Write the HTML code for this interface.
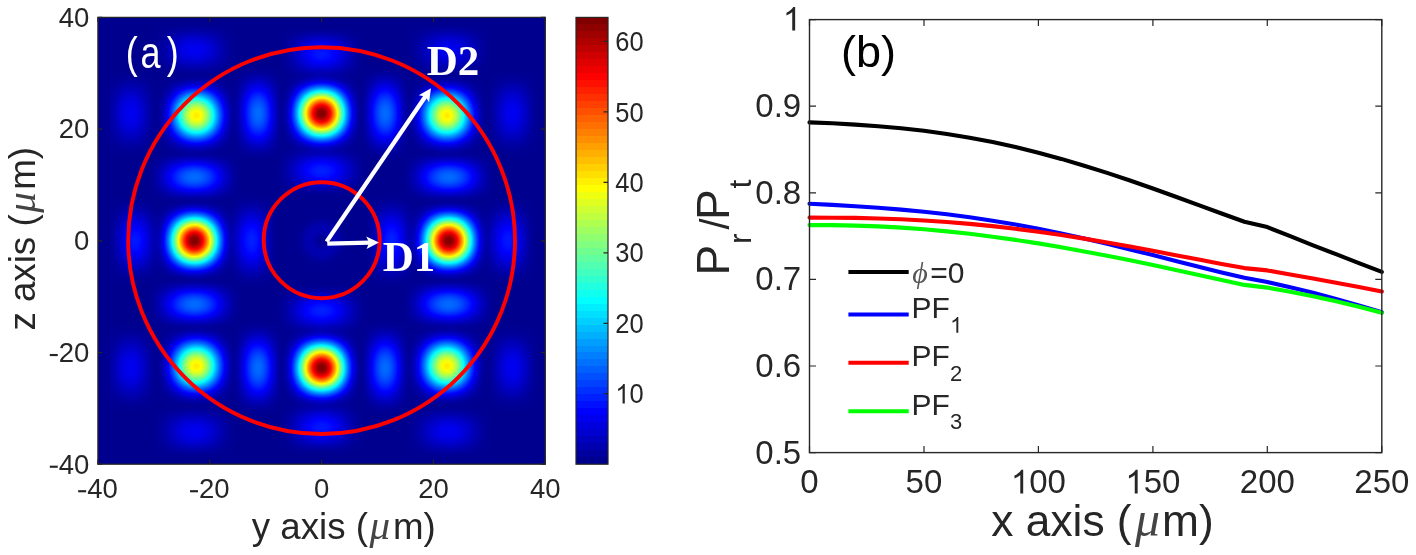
<!DOCTYPE html>
<html><head><meta charset="utf-8">
<style>
html,body{margin:0;padding:0;background:#fff;}
body{width:1416px;height:555px;position:relative;overflow:hidden;font-family:"Liberation Sans",sans-serif;}
#hm{position:absolute;left:98px;top:17px;width:447px;height:447px;}
#ov{position:absolute;left:0;top:0;}
text{font-family:"Liberation Sans",sans-serif;fill:#262626;}
</style></head><body>
<svg id="fb" width="1416" height="555" style="position:absolute;left:0;top:0"><defs><radialGradient id="fge"><stop offset="0.000" stop-color="rgb(128,0,0)" stop-opacity="1.00"/><stop offset="0.083" stop-color="rgb(147,0,0)" stop-opacity="1.00"/><stop offset="0.167" stop-color="rgb(213,0,0)" stop-opacity="1.00"/><stop offset="0.250" stop-color="rgb(255,60,0)" stop-opacity="1.00"/><stop offset="0.333" stop-color="rgb(255,188,0)" stop-opacity="1.00"/><stop offset="0.417" stop-color="rgb(182,255,73)" stop-opacity="1.00"/><stop offset="0.500" stop-color="rgb(42,255,213)" stop-opacity="1.00"/><stop offset="0.583" stop-color="rgb(0,168,255)" stop-opacity="1.00"/><stop offset="0.667" stop-color="rgb(0,61,255)" stop-opacity="1.00"/><stop offset="0.750" stop-color="rgb(0,0,234)" stop-opacity="1.00"/><stop offset="0.833" stop-color="rgb(0,0,180)" stop-opacity="0.83"/><stop offset="0.917" stop-color="rgb(0,0,152)" stop-opacity="0.42"/><stop offset="1.000" stop-color="rgb(0,0,143)" stop-opacity="0.00"/></radialGradient><radialGradient id="fgc"><stop offset="0.000" stop-color="rgb(255,235,0)" stop-opacity="1.00"/><stop offset="0.083" stop-color="rgb(255,250,0)" stop-opacity="1.00"/><stop offset="0.167" stop-color="rgb(218,255,37)" stop-opacity="1.00"/><stop offset="0.250" stop-color="rgb(153,255,102)" stop-opacity="1.00"/><stop offset="0.333" stop-color="rgb(72,255,183)" stop-opacity="1.00"/><stop offset="0.417" stop-color="rgb(0,238,255)" stop-opacity="1.00"/><stop offset="0.500" stop-color="rgb(0,148,255)" stop-opacity="1.00"/><stop offset="0.583" stop-color="rgb(0,67,255)" stop-opacity="1.00"/><stop offset="0.667" stop-color="rgb(0,0,253)" stop-opacity="1.00"/><stop offset="0.750" stop-color="rgb(0,0,201)" stop-opacity="1.00"/><stop offset="0.833" stop-color="rgb(0,0,167)" stop-opacity="0.83"/><stop offset="0.917" stop-color="rgb(0,0,149)" stop-opacity="0.42"/><stop offset="1.000" stop-color="rgb(0,0,143)" stop-opacity="0.00"/></radialGradient><radialGradient id="fl12"><stop offset="0.000" stop-color="rgb(0,107,255)" stop-opacity="1.00"/><stop offset="0.083" stop-color="rgb(0,103,255)" stop-opacity="1.00"/><stop offset="0.167" stop-color="rgb(0,92,255)" stop-opacity="1.00"/><stop offset="0.250" stop-color="rgb(0,75,255)" stop-opacity="1.00"/><stop offset="0.333" stop-color="rgb(0,52,255)" stop-opacity="1.00"/><stop offset="0.417" stop-color="rgb(0,26,255)" stop-opacity="1.00"/><stop offset="0.500" stop-color="rgb(0,0,253)" stop-opacity="1.00"/><stop offset="0.583" stop-color="rgb(0,0,224)" stop-opacity="1.00"/><stop offset="0.667" stop-color="rgb(0,0,198)" stop-opacity="1.00"/><stop offset="0.750" stop-color="rgb(0,0,175)" stop-opacity="1.00"/><stop offset="0.833" stop-color="rgb(0,0,158)" stop-opacity="0.83"/><stop offset="0.917" stop-color="rgb(0,0,147)" stop-opacity="0.42"/><stop offset="1.000" stop-color="rgb(0,0,143)" stop-opacity="0.00"/></radialGradient><radialGradient id="fl32"><stop offset="0.000" stop-color="rgb(0,0,242)" stop-opacity="1.00"/><stop offset="0.083" stop-color="rgb(0,0,240)" stop-opacity="1.00"/><stop offset="0.167" stop-color="rgb(0,0,235)" stop-opacity="1.00"/><stop offset="0.250" stop-color="rgb(0,0,227)" stop-opacity="1.00"/><stop offset="0.333" stop-color="rgb(0,0,217)" stop-opacity="1.00"/><stop offset="0.417" stop-color="rgb(0,0,205)" stop-opacity="1.00"/><stop offset="0.500" stop-color="rgb(0,0,193)" stop-opacity="1.00"/><stop offset="0.583" stop-color="rgb(0,0,180)" stop-opacity="1.00"/><stop offset="0.667" stop-color="rgb(0,0,168)" stop-opacity="1.00"/><stop offset="0.750" stop-color="rgb(0,0,158)" stop-opacity="1.00"/><stop offset="0.833" stop-color="rgb(0,0,150)" stop-opacity="0.83"/><stop offset="0.917" stop-color="rgb(0,0,145)" stop-opacity="0.42"/><stop offset="1.000" stop-color="rgb(0,0,143)" stop-opacity="0.00"/></radialGradient><radialGradient id="fl10"><stop offset="0.000" stop-color="rgb(0,31,255)" stop-opacity="1.00"/><stop offset="0.083" stop-color="rgb(0,29,255)" stop-opacity="1.00"/><stop offset="0.167" stop-color="rgb(0,21,255)" stop-opacity="1.00"/><stop offset="0.250" stop-color="rgb(0,10,255)" stop-opacity="1.00"/><stop offset="0.333" stop-color="rgb(0,0,250)" stop-opacity="1.00"/><stop offset="0.417" stop-color="rgb(0,0,233)" stop-opacity="1.00"/><stop offset="0.500" stop-color="rgb(0,0,215)" stop-opacity="1.00"/><stop offset="0.583" stop-color="rgb(0,0,196)" stop-opacity="1.00"/><stop offset="0.667" stop-color="rgb(0,0,179)" stop-opacity="1.00"/><stop offset="0.750" stop-color="rgb(0,0,164)" stop-opacity="1.00"/><stop offset="0.833" stop-color="rgb(0,0,153)" stop-opacity="0.83"/><stop offset="0.917" stop-color="rgb(0,0,146)" stop-opacity="0.42"/><stop offset="1.000" stop-color="rgb(0,0,143)" stop-opacity="0.00"/></radialGradient><radialGradient id="fl30"><stop offset="0.000" stop-color="rgb(0,23,255)" stop-opacity="1.00"/><stop offset="0.083" stop-color="rgb(0,21,255)" stop-opacity="1.00"/><stop offset="0.167" stop-color="rgb(0,14,255)" stop-opacity="1.00"/><stop offset="0.250" stop-color="rgb(0,3,255)" stop-opacity="1.00"/><stop offset="0.333" stop-color="rgb(0,0,244)" stop-opacity="1.00"/><stop offset="0.417" stop-color="rgb(0,0,228)" stop-opacity="1.00"/><stop offset="0.500" stop-color="rgb(0,0,211)" stop-opacity="1.00"/><stop offset="0.583" stop-color="rgb(0,0,193)" stop-opacity="1.00"/><stop offset="0.667" stop-color="rgb(0,0,177)" stop-opacity="1.00"/><stop offset="0.750" stop-color="rgb(0,0,163)" stop-opacity="1.00"/><stop offset="0.833" stop-color="rgb(0,0,152)" stop-opacity="0.83"/><stop offset="0.917" stop-color="rgb(0,0,146)" stop-opacity="0.42"/><stop offset="1.000" stop-color="rgb(0,0,143)" stop-opacity="0.00"/></radialGradient><clipPath id="fbc"><rect x="98" y="17" width="447" height="447"/></clipPath></defs><g clip-path="url(#fbc)"><rect x="98" y="17" width="447" height="447" fill="#00008f"/><ellipse cx="258.0" cy="367.9" rx="28.5" ry="50.3" fill="url(#fl12)"/><ellipse cx="194.4" cy="304.3" rx="50.3" ry="28.5" fill="url(#fl12)"/><ellipse cx="130.8" cy="367.9" rx="27.9" ry="44.7" fill="url(#fl32)"/><ellipse cx="194.4" cy="431.5" rx="44.7" ry="27.9" fill="url(#fl32)"/><ellipse cx="258.0" cy="113.5" rx="28.5" ry="50.3" fill="url(#fl12)"/><ellipse cx="448.8" cy="304.3" rx="50.3" ry="28.5" fill="url(#fl12)"/><ellipse cx="130.8" cy="113.5" rx="27.9" ry="44.7" fill="url(#fl32)"/><ellipse cx="448.8" cy="431.5" rx="44.7" ry="27.9" fill="url(#fl32)"/><ellipse cx="251.8" cy="240.7" rx="28.5" ry="50.3" fill="url(#fl10)"/><ellipse cx="321.6" cy="310.5" rx="50.3" ry="28.5" fill="url(#fl10)"/><ellipse cx="135.0" cy="240.7" rx="27.9" ry="44.7" fill="url(#fl30)"/><ellipse cx="321.6" cy="427.3" rx="44.7" ry="27.9" fill="url(#fl30)"/><ellipse cx="385.2" cy="367.9" rx="28.5" ry="50.3" fill="url(#fl12)"/><ellipse cx="194.4" cy="177.1" rx="50.3" ry="28.5" fill="url(#fl12)"/><ellipse cx="512.4" cy="367.9" rx="27.9" ry="44.7" fill="url(#fl32)"/><ellipse cx="194.4" cy="49.9" rx="44.7" ry="27.9" fill="url(#fl32)"/><ellipse cx="385.2" cy="113.5" rx="28.5" ry="50.3" fill="url(#fl12)"/><ellipse cx="448.8" cy="177.1" rx="50.3" ry="28.5" fill="url(#fl12)"/><ellipse cx="512.4" cy="113.5" rx="27.9" ry="44.7" fill="url(#fl32)"/><ellipse cx="448.8" cy="49.9" rx="44.7" ry="27.9" fill="url(#fl32)"/><ellipse cx="391.4" cy="240.7" rx="28.5" ry="50.3" fill="url(#fl10)"/><ellipse cx="321.6" cy="170.9" rx="50.3" ry="28.5" fill="url(#fl10)"/><ellipse cx="508.2" cy="240.7" rx="27.9" ry="44.7" fill="url(#fl30)"/><ellipse cx="321.6" cy="54.1" rx="44.7" ry="27.9" fill="url(#fl30)"/><ellipse cx="194.4" cy="240.7" rx="42.5" ry="42.5" fill="url(#fge)"/><ellipse cx="321.6" cy="367.9" rx="42.5" ry="42.5" fill="url(#fge)"/><ellipse cx="196.4" cy="365.9" rx="42.5" ry="42.5" fill="url(#fgc)"/><ellipse cx="196.4" cy="115.5" rx="42.5" ry="42.5" fill="url(#fgc)"/><ellipse cx="448.8" cy="240.7" rx="42.5" ry="42.5" fill="url(#fge)"/><ellipse cx="321.6" cy="113.5" rx="42.5" ry="42.5" fill="url(#fge)"/><ellipse cx="446.8" cy="365.9" rx="42.5" ry="42.5" fill="url(#fgc)"/><ellipse cx="446.8" cy="115.5" rx="42.5" ry="42.5" fill="url(#fgc)"/></g></svg>
<canvas id="hm" width="447" height="447"></canvas>
<svg id="ov" width="1416" height="555" viewBox="0 0 1416 555">
<circle cx="321.6" cy="240.6" r="193.4" fill="none" stroke="#ff0000" stroke-width="3.9"/>
<circle cx="321.7" cy="240.2" r="58" fill="none" stroke="#ff0000" stroke-width="3.9"/>
<line x1="327.3" y1="243.6" x2="369.7" y2="242.6" stroke="#fff" stroke-width="4.3"/>
<path d="M379.00 242.40 L366.55 248.89 L369.17 242.63 L366.26 236.49 Z" fill="#fff"/>
<line x1="326.6" y1="241.6" x2="425.7" y2="96.0" stroke="#fff" stroke-width="4.3"/>
<path d="M431.00 88.30 L429.03 102.20 L425.47 96.42 L418.78 95.22 Z" fill="#fff"/>
<text x="382.7" y="270.7" style="font-size:43px;font-family:'Liberation Serif',serif;font-weight:bold;fill:#fff">D1</text>
<text x="426.8" y="75.0" style="font-size:43px;font-family:'Liberation Serif',serif;font-weight:bold;fill:#fff">D2</text>
<text transform="translate(128,67.6) scale(0.8,1)" x="-2.79" y="0" style="font-size:45px;fill:#fff">(</text>
<text transform="translate(142,67.6) scale(0.8,1)" x="-1.89" y="0" style="font-size:45px;fill:#fff">a</text>
<text transform="translate(167,67.6) scale(0.8,1)" x="-0.27" y="0" style="font-size:45px;fill:#fff">)</text>
<rect x="97.9" y="17.4" width="447.4" height="446.8" fill="none" stroke="#262626" stroke-width="1.3"/>
<rect x="78.17" y="490.16" width="7.97" height="2.15" fill="#262626"/>
<text x="87.2" y="498.0" style="font-size:27.5px">40</text>
<rect x="49.80" y="465.66" width="7.97" height="2.15" fill="#262626"/>
<text x="58.8" y="473.5" style="font-size:27.5px">40</text>
<rect x="190.02" y="490.16" width="7.97" height="2.15" fill="#262626"/>
<text x="199.0" y="498.0" style="font-size:27.5px">20</text>
<rect x="49.80" y="353.96" width="7.97" height="2.15" fill="#262626"/>
<text x="58.8" y="361.8" style="font-size:27.5px">20</text>
<text x="314.0" y="498.0" style="font-size:27.5px">0</text>
<text x="74.1" y="250.1" style="font-size:27.5px">0</text>
<text x="418.2" y="498.0" style="font-size:27.5px">20</text>
<text x="58.8" y="138.4" style="font-size:27.5px">20</text>
<text x="530.0" y="498.0" style="font-size:27.5px">40</text>
<text x="58.8" y="26.7" style="font-size:27.5px">40</text>
<path d="M97.9 464.2V459.7M97.9 17.4V21.9M97.9 464.2H102.4M545.3 464.2H540.8M209.8 464.2V459.7M209.8 17.4V21.9M97.9 352.5H102.4M545.3 352.5H540.8M321.6 464.2V459.7M321.6 17.4V21.9M97.9 240.8H102.4M545.3 240.8H540.8M433.4 464.2V459.7M433.4 17.4V21.9M97.9 129.1H102.4M545.3 129.1H540.8M545.3 464.2V459.7M545.3 17.4V21.9M97.9 17.4H102.4M545.3 17.4H540.8" stroke="#262626" stroke-width="1.2" fill="none"/>
<text y="538.8" style="font-size:36.7px"><tspan x="251.8">y axis (</tspan><tspan x="369.5" style="font-family:'Liberation Serif',serif;font-style:italic;font-size:41px;fill:#444">&#956;</tspan><tspan x="393">m)</tspan></text>
<text transform="translate(35.2,0) rotate(-90)" y="0" style="font-size:36.7px"><tspan x="-330.6">z axis (</tspan><tspan x="-212.8" style="font-family:'Liberation Serif',serif;font-style:italic;font-size:41px;fill:#444">&#956;</tspan><tspan x="-189.8">m)</tspan></text>
<defs><linearGradient id="cbg" x1="0" y1="1" x2="0" y2="0"><stop offset="0.00000" stop-color="rgb(0,0,143)"/><stop offset="0.01562" stop-color="rgb(0,0,143)"/><stop offset="0.01562" stop-color="rgb(0,0,159)"/><stop offset="0.03125" stop-color="rgb(0,0,159)"/><stop offset="0.03125" stop-color="rgb(0,0,175)"/><stop offset="0.04688" stop-color="rgb(0,0,175)"/><stop offset="0.04688" stop-color="rgb(0,0,191)"/><stop offset="0.06250" stop-color="rgb(0,0,191)"/><stop offset="0.06250" stop-color="rgb(0,0,207)"/><stop offset="0.07812" stop-color="rgb(0,0,207)"/><stop offset="0.07812" stop-color="rgb(0,0,223)"/><stop offset="0.09375" stop-color="rgb(0,0,223)"/><stop offset="0.09375" stop-color="rgb(0,0,239)"/><stop offset="0.10938" stop-color="rgb(0,0,239)"/><stop offset="0.10938" stop-color="rgb(0,0,255)"/><stop offset="0.12500" stop-color="rgb(0,0,255)"/><stop offset="0.12500" stop-color="rgb(0,16,255)"/><stop offset="0.14062" stop-color="rgb(0,16,255)"/><stop offset="0.14062" stop-color="rgb(0,32,255)"/><stop offset="0.15625" stop-color="rgb(0,32,255)"/><stop offset="0.15625" stop-color="rgb(0,48,255)"/><stop offset="0.17188" stop-color="rgb(0,48,255)"/><stop offset="0.17188" stop-color="rgb(0,64,255)"/><stop offset="0.18750" stop-color="rgb(0,64,255)"/><stop offset="0.18750" stop-color="rgb(0,80,255)"/><stop offset="0.20312" stop-color="rgb(0,80,255)"/><stop offset="0.20312" stop-color="rgb(0,96,255)"/><stop offset="0.21875" stop-color="rgb(0,96,255)"/><stop offset="0.21875" stop-color="rgb(0,112,255)"/><stop offset="0.23438" stop-color="rgb(0,112,255)"/><stop offset="0.23438" stop-color="rgb(0,128,255)"/><stop offset="0.25000" stop-color="rgb(0,128,255)"/><stop offset="0.25000" stop-color="rgb(0,143,255)"/><stop offset="0.26562" stop-color="rgb(0,143,255)"/><stop offset="0.26562" stop-color="rgb(0,159,255)"/><stop offset="0.28125" stop-color="rgb(0,159,255)"/><stop offset="0.28125" stop-color="rgb(0,175,255)"/><stop offset="0.29688" stop-color="rgb(0,175,255)"/><stop offset="0.29688" stop-color="rgb(0,191,255)"/><stop offset="0.31250" stop-color="rgb(0,191,255)"/><stop offset="0.31250" stop-color="rgb(0,207,255)"/><stop offset="0.32812" stop-color="rgb(0,207,255)"/><stop offset="0.32812" stop-color="rgb(0,223,255)"/><stop offset="0.34375" stop-color="rgb(0,223,255)"/><stop offset="0.34375" stop-color="rgb(0,239,255)"/><stop offset="0.35938" stop-color="rgb(0,239,255)"/><stop offset="0.35938" stop-color="rgb(0,255,255)"/><stop offset="0.37500" stop-color="rgb(0,255,255)"/><stop offset="0.37500" stop-color="rgb(16,255,239)"/><stop offset="0.39062" stop-color="rgb(16,255,239)"/><stop offset="0.39062" stop-color="rgb(32,255,223)"/><stop offset="0.40625" stop-color="rgb(32,255,223)"/><stop offset="0.40625" stop-color="rgb(48,255,207)"/><stop offset="0.42188" stop-color="rgb(48,255,207)"/><stop offset="0.42188" stop-color="rgb(64,255,191)"/><stop offset="0.43750" stop-color="rgb(64,255,191)"/><stop offset="0.43750" stop-color="rgb(80,255,175)"/><stop offset="0.45312" stop-color="rgb(80,255,175)"/><stop offset="0.45312" stop-color="rgb(96,255,159)"/><stop offset="0.46875" stop-color="rgb(96,255,159)"/><stop offset="0.46875" stop-color="rgb(112,255,143)"/><stop offset="0.48438" stop-color="rgb(112,255,143)"/><stop offset="0.48438" stop-color="rgb(128,255,128)"/><stop offset="0.50000" stop-color="rgb(128,255,128)"/><stop offset="0.50000" stop-color="rgb(143,255,112)"/><stop offset="0.51562" stop-color="rgb(143,255,112)"/><stop offset="0.51562" stop-color="rgb(159,255,96)"/><stop offset="0.53125" stop-color="rgb(159,255,96)"/><stop offset="0.53125" stop-color="rgb(175,255,80)"/><stop offset="0.54688" stop-color="rgb(175,255,80)"/><stop offset="0.54688" stop-color="rgb(191,255,64)"/><stop offset="0.56250" stop-color="rgb(191,255,64)"/><stop offset="0.56250" stop-color="rgb(207,255,48)"/><stop offset="0.57812" stop-color="rgb(207,255,48)"/><stop offset="0.57812" stop-color="rgb(223,255,32)"/><stop offset="0.59375" stop-color="rgb(223,255,32)"/><stop offset="0.59375" stop-color="rgb(239,255,16)"/><stop offset="0.60938" stop-color="rgb(239,255,16)"/><stop offset="0.60938" stop-color="rgb(255,255,0)"/><stop offset="0.62500" stop-color="rgb(255,255,0)"/><stop offset="0.62500" stop-color="rgb(255,239,0)"/><stop offset="0.64062" stop-color="rgb(255,239,0)"/><stop offset="0.64062" stop-color="rgb(255,223,0)"/><stop offset="0.65625" stop-color="rgb(255,223,0)"/><stop offset="0.65625" stop-color="rgb(255,207,0)"/><stop offset="0.67188" stop-color="rgb(255,207,0)"/><stop offset="0.67188" stop-color="rgb(255,191,0)"/><stop offset="0.68750" stop-color="rgb(255,191,0)"/><stop offset="0.68750" stop-color="rgb(255,175,0)"/><stop offset="0.70312" stop-color="rgb(255,175,0)"/><stop offset="0.70312" stop-color="rgb(255,159,0)"/><stop offset="0.71875" stop-color="rgb(255,159,0)"/><stop offset="0.71875" stop-color="rgb(255,143,0)"/><stop offset="0.73438" stop-color="rgb(255,143,0)"/><stop offset="0.73438" stop-color="rgb(255,128,0)"/><stop offset="0.75000" stop-color="rgb(255,128,0)"/><stop offset="0.75000" stop-color="rgb(255,112,0)"/><stop offset="0.76562" stop-color="rgb(255,112,0)"/><stop offset="0.76562" stop-color="rgb(255,96,0)"/><stop offset="0.78125" stop-color="rgb(255,96,0)"/><stop offset="0.78125" stop-color="rgb(255,80,0)"/><stop offset="0.79688" stop-color="rgb(255,80,0)"/><stop offset="0.79688" stop-color="rgb(255,64,0)"/><stop offset="0.81250" stop-color="rgb(255,64,0)"/><stop offset="0.81250" stop-color="rgb(255,48,0)"/><stop offset="0.82812" stop-color="rgb(255,48,0)"/><stop offset="0.82812" stop-color="rgb(255,32,0)"/><stop offset="0.84375" stop-color="rgb(255,32,0)"/><stop offset="0.84375" stop-color="rgb(255,16,0)"/><stop offset="0.85938" stop-color="rgb(255,16,0)"/><stop offset="0.85938" stop-color="rgb(255,0,0)"/><stop offset="0.87500" stop-color="rgb(255,0,0)"/><stop offset="0.87500" stop-color="rgb(239,0,0)"/><stop offset="0.89062" stop-color="rgb(239,0,0)"/><stop offset="0.89062" stop-color="rgb(223,0,0)"/><stop offset="0.90625" stop-color="rgb(223,0,0)"/><stop offset="0.90625" stop-color="rgb(207,0,0)"/><stop offset="0.92188" stop-color="rgb(207,0,0)"/><stop offset="0.92188" stop-color="rgb(191,0,0)"/><stop offset="0.93750" stop-color="rgb(191,0,0)"/><stop offset="0.93750" stop-color="rgb(175,0,0)"/><stop offset="0.95312" stop-color="rgb(175,0,0)"/><stop offset="0.95312" stop-color="rgb(159,0,0)"/><stop offset="0.96875" stop-color="rgb(159,0,0)"/><stop offset="0.96875" stop-color="rgb(143,0,0)"/><stop offset="0.98438" stop-color="rgb(143,0,0)"/><stop offset="0.98438" stop-color="rgb(128,0,0)"/><stop offset="1.00000" stop-color="rgb(128,0,0)"/></linearGradient></defs>
<rect x="576.0" y="17.4" width="32.0" height="446.8" fill="url(#cbg)"/>
<rect x="576.0" y="17.4" width="32.0" height="446.8" fill="none" stroke="#262626" stroke-width="1.2"/>
<g transform="translate(615.3,403.43) scale(1,1.07)">
<path d="M9.50 0.00L7.26 0.00L7.26 -14.28C6.72 -13.77 6.01 -13.26 5.14 -12.75C4.27 -12.24 3.49 -11.85 2.78 -11.59L2.78 -13.76C4.03 -14.34 5.13 -15.07 6.06 -15.90C7.00 -16.73 7.66 -17.52 8.04 -18.25L9.50 -18.25Z" fill="#262626"/>
<text x="14.2" y="0.0" style="font-size:25.5px">0</text>
</g>
<g transform="translate(615.3,332.95) scale(1,1.07)">
<text x="0.0" y="0.0" style="font-size:25.5px">20</text>
</g>
<g transform="translate(615.3,262.48) scale(1,1.07)">
<text x="0.0" y="0.0" style="font-size:25.5px">30</text>
</g>
<g transform="translate(615.3,192.01) scale(1,1.07)">
<text x="0.0" y="0.0" style="font-size:25.5px">40</text>
</g>
<g transform="translate(615.3,121.53) scale(1,1.07)">
<text x="0.0" y="0.0" style="font-size:25.5px">50</text>
</g>
<g transform="translate(615.3,51.06) scale(1,1.07)">
<text x="0.0" y="0.0" style="font-size:25.5px">60</text>
</g>
<path d="M608.0 393.7H603.5M608.0 323.3H603.5M608.0 252.8H603.5M608.0 182.3H603.5M608.0 111.8H603.5M608.0 41.4H603.5" stroke="#262626" stroke-width="1.2" fill="none"/>
<polyline points="809.5,122.4 832.4,123.3 855.3,124.6 878.2,126.2 901.1,128.2 924.0,130.8 946.9,134.0 969.7,137.7 992.6,142.1 1015.5,147.1 1038.4,152.7 1061.3,158.9 1084.2,165.7 1107.1,172.9 1130.0,180.5 1152.9,188.5 1175.8,196.7 1198.7,205.1 1221.6,213.5 1244.4,221.7 1267.3,227.1 1290.2,236.2 1313.1,245.3 1336.0,254.2 1358.9,263.1 1381.8,271.9" fill="none" stroke="#000000" stroke-width="4.1" stroke-linejoin="round" stroke-linecap="round"/>
<polyline points="809.5,203.7 832.4,204.9 855.3,206.2 878.2,207.8 901.1,209.6 924.0,211.8 946.9,214.3 969.7,217.3 992.6,220.7 1015.5,224.5 1038.4,228.8 1061.3,233.5 1084.2,238.5 1107.1,243.8 1130.0,249.4 1152.9,255.1 1175.8,261.0 1198.7,266.7 1221.6,272.4 1244.4,277.7 1267.3,282.1 1290.2,287.2 1313.1,292.8 1336.0,298.9 1358.9,305.4 1381.8,312.3" fill="none" stroke="#0000ff" stroke-width="4.1" stroke-linejoin="round" stroke-linecap="round"/>
<polyline points="809.5,217.6 832.4,217.7 855.3,217.9 878.2,218.5 901.1,219.3 924.0,220.5 946.9,222.0 969.7,223.9 992.6,226.1 1015.5,228.8 1038.4,231.7 1061.3,235.0 1084.2,238.6 1107.1,242.5 1130.0,246.6 1152.9,250.8 1175.8,255.2 1198.7,259.6 1221.6,263.9 1244.4,268.1 1267.3,270.4 1290.2,274.4 1313.1,278.5 1336.0,282.8 1358.9,287.1 1381.8,291.5" fill="none" stroke="#ff0000" stroke-width="4.1" stroke-linejoin="round" stroke-linecap="round"/>
<polyline points="809.5,225.1 832.4,225.1 855.3,225.6 878.2,226.4 901.1,227.6 924.0,229.3 946.9,231.4 969.7,233.8 992.6,236.7 1015.5,239.9 1038.4,243.4 1061.3,247.2 1084.2,251.4 1107.1,255.7 1130.0,260.3 1152.9,265.1 1175.8,270.0 1198.7,274.9 1221.6,280.0 1244.4,284.9 1267.3,287.6 1290.2,291.7 1313.1,296.2 1336.0,301.3 1358.9,306.8 1381.8,312.8" fill="none" stroke="#00ff00" stroke-width="4.1" stroke-linejoin="round" stroke-linecap="round"/>
<rect x="809.5" y="19.6" width="572.3" height="433.0" fill="none" stroke="#262626" stroke-width="1.4"/>
<text x="800.3" y="493.4" style="font-size:33px">0</text>
<text x="905.6" y="493.4" style="font-size:33px">50</text>
<path d="M1023.19 493.40L1020.29 493.40L1020.29 474.92C1019.60 475.58 1018.68 476.24 1017.55 476.90C1016.42 477.56 1015.41 478.06 1014.49 478.40L1014.49 475.59C1016.12 474.84 1017.54 473.90 1018.75 472.82C1019.95 471.74 1020.81 470.73 1021.31 469.78L1023.19 469.78Z" fill="#262626"/>
<text x="1029.2" y="493.4" style="font-size:33px">00</text>
<path d="M1137.65 493.40L1134.75 493.40L1134.75 474.92C1134.06 475.58 1133.14 476.24 1132.01 476.90C1130.88 477.56 1129.87 478.06 1128.95 478.40L1128.95 475.59C1130.58 474.84 1132.00 473.90 1133.21 472.82C1134.41 471.74 1135.27 470.73 1135.77 469.78L1137.65 469.78Z" fill="#262626"/>
<text x="1143.7" y="493.4" style="font-size:33px">50</text>
<text x="1239.8" y="493.4" style="font-size:33px">200</text>
<text x="1354.3" y="493.4" style="font-size:33px">250</text>
<text x="755.3" y="463.5" style="font-size:33px">0.5</text>
<text x="755.3" y="376.9" style="font-size:33px">0.6</text>
<text x="755.3" y="290.3" style="font-size:33px">0.7</text>
<text x="755.3" y="203.7" style="font-size:33px">0.8</text>
<text x="755.3" y="117.1" style="font-size:33px">0.9</text>
<path d="M795.15 30.50L792.25 30.50L792.25 12.02C791.55 12.68 790.63 13.34 789.51 14.00C788.38 14.66 787.36 15.16 786.45 15.50L786.45 12.69C788.07 11.94 789.49 11.00 790.70 9.92C791.91 8.84 792.76 7.83 793.26 6.88L795.15 6.88Z" fill="#262626"/>
<path d="M809.5 452.6V446.1M809.5 19.6V26.1M924.0 452.6V446.1M924.0 19.6V26.1M1038.4 452.6V446.1M1038.4 19.6V26.1M1152.9 452.6V446.1M1152.9 19.6V26.1M1267.3 452.6V446.1M1267.3 19.6V26.1M1381.8 452.6V446.1M1381.8 19.6V26.1M809.5 452.6H816.0M1381.8 452.6H1375.3M809.5 366.0H816.0M1381.8 366.0H1375.3M809.5 279.4H816.0M1381.8 279.4H1375.3M809.5 192.8H816.0M1381.8 192.8H1375.3M809.5 106.2H816.0M1381.8 106.2H1375.3M809.5 19.6H816.0M1381.8 19.6H1375.3" stroke="#262626" stroke-width="1.2" fill="none"/>
<text y="536.0" style="font-size:44.3px"><tspan x="991.3">x axis (</tspan><tspan x="1135" style="font-family:'Liberation Serif',serif;font-style:italic;font-size:50px;fill:#444">&#956;</tspan><tspan x="1162">m)</tspan></text>
<g transform="translate(728.7,0) rotate(-90)">
<text x="-275.5" y="0.0" style="font-size:46px">P</text>
<text x="-243.9" y="21.8" style="font-size:32px">r</text>
<text x="-229.5" y="0.0" style="font-size:40px">/</text>
<text x="-219.9" y="0.0" style="font-size:46px">P</text>
<text x="-188.4" y="21.8" style="font-size:32px">t</text>
</g>
<text x="840.9" y="67.1" style="font-size:45px;fill:#000">(b)</text>
<line x1="848.4" y1="271.9" x2="908.7" y2="271.9" stroke="#000000" stroke-width="4.0"/>
<line x1="848.4" y1="314.5" x2="908.7" y2="314.5" stroke="#0000ff" stroke-width="4.0"/>
<line x1="848.4" y1="362.7" x2="908.7" y2="362.7" stroke="#ff0000" stroke-width="4.0"/>
<line x1="848.4" y1="411.3" x2="908.7" y2="411.3" stroke="#00ff00" stroke-width="4.0"/>
<text x="912.2" y="282.8" style="font-size:30px;font-family:'Liberation Serif',serif;font-style:italic;fill:#555">&#981;</text>
<text x="930.3" y="282.8" style="font-size:30px">=0</text>
<text x="911.5" y="318.1" style="font-size:30px">PF</text>
<path d="M958.30 332.70L956.36 332.70L956.36 320.38C955.90 320.82 955.29 321.26 954.54 321.70C953.78 322.14 953.11 322.47 952.50 322.70L952.50 320.83C953.58 320.33 954.53 319.70 955.33 318.98C956.14 318.26 956.71 317.59 957.04 316.95L958.30 316.95Z" fill="#262626"/>
<text x="911.5" y="366.3" style="font-size:30px">PF</text>
<text x="950.1" y="380.9" style="font-size:22px">2</text>
<text x="911.5" y="414.8" style="font-size:30px">PF</text>
<text x="950.1" y="429.4" style="font-size:22px">3</text>
</svg>
<script>
(function(){
function jet(v){v=Math.max(0,Math.min(1,v));
 var r=Math.min(4*v-1.5,-4*v+4.5),g=Math.min(4*v-0.5,-4*v+3.5),b=Math.min(4*v+0.5,-4*v+2.5);
 return [Math.max(0,Math.min(1,r)),Math.max(0,Math.min(1,g)),Math.max(0,Math.min(1,b))];}
var cv=document.getElementById('hm');if(!cv.getContext)return;var ctx=cv.getContext('2d');
var W=447,H=447,img=ctx.createImageData(W,H),D=img.data;
var PX=5.5875, CX=321.6-98, CY=240.7-17;
var d=127.2/PX, dc=125.2/PX, h=d/2, SL=7.6;
function sc2(u,L){var x=Math.abs(u)/L;if(x>=1)return 0;if(x<1e-6)return 1;var s=Math.sin(Math.PI*x)/(Math.PI*x);return s*s;}
function cs2(u,L){var x=Math.abs(u)/L;if(x>=1)return 0;var c=Math.cos(Math.PI*x/2);return c*c;}
var spots=[],lobes=[];
[-1,1].forEach(function(s){
  spots.push([s*d,0,63.6]);spots.push([0,s*d,63.6]);
  [-1,1].forEach(function(t){
    spots.push([s*dc,t*dc,40.5]);
    lobes.push([s*h,t*d,13.8,4.7,8.6]);
    lobes.push([t*d,s*h,13.8,8.6,4.7]);
    lobes.push([s*3*h,t*d,6.2,5.0,8.0]);
    lobes.push([t*d,s*3*h,6.2,8.0,5.0]);
  });
  lobes.push([s*12.5,0,9,4.7,8.6]);
  lobes.push([0,s*12.5,9,8.6,4.7]);
  lobes.push([s*33.4,0,8.5,5.0,8.0]);
  lobes.push([0,s*33.4,8.5,8.0,5.0]);
});
for(var j=0;j<H;j++){
  var z=(CY-(j+0.5))/PX;
  for(var i=0;i<W;i++){
    var y=((i+0.5)-CX)/PX, I=0.0, k, p;
    for(k=0;k<spots.length;k++){p=spots[k];var dy=y-p[0],dz=z-p[1];if(Math.abs(dy)<SL&&Math.abs(dz)<SL){I+=p[2]*(0.2*sc2(Math.sqrt(dy*dy+dz*dz),SL)+(1-0.2)*sc2(dy,SL)*sc2(dz,SL));}}
    for(k=0;k<lobes.length;k++){p=lobes[k];I+=p[2]*cs2(y-p[0],p[3])*cs2(z-p[1],p[4]);}
    var r=Math.sqrt(y*y+z*z);
    if(r<6){I+=3.4*Math.pow(Math.sin(Math.PI*r/5),2)*(1-r/6);}
    var c=jet(1/64+I/63.4*63/64),o=(j*W+i)*4;
    D[o]=c[0]*255;D[o+1]=c[1]*255;D[o+2]=c[2]*255;D[o+3]=255;
  }
}
ctx.putImageData(img,0,0);
})();
</script>
</body></html>
